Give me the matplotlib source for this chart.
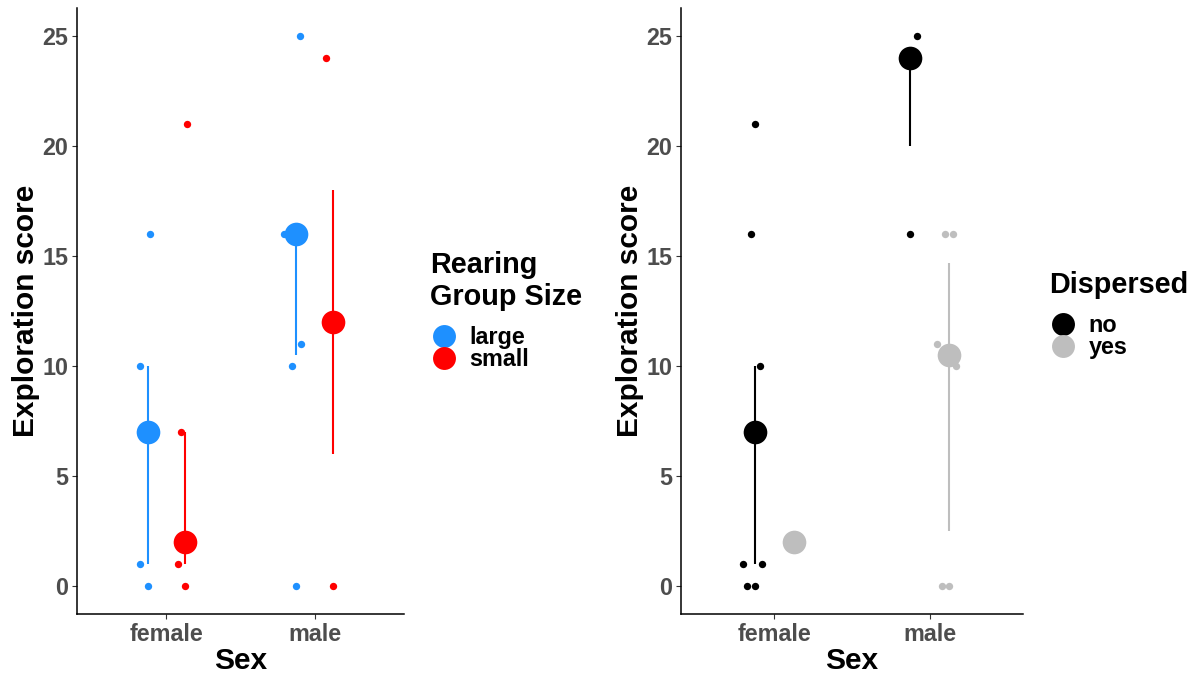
import matplotlib
matplotlib.use("Agg")
import matplotlib.pyplot as plt
from matplotlib.lines import Line2D
import numpy as np

plt.rcParams['font.family'] = ['Liberation Sans', 'DejaVu Sans']
plt.rcParams['font.weight'] = 'bold'

sexes = ["female", "male"]
yticks = [0, 5, 10, 15, 20, 25]

# Left panel: Rearing Group Size
rear_groups = ["large", "small"]
rear_colors = {"large": "#1E90FF", "small": "#FF0000"}
# raw points: (sex, group, value, jitter)
rear_sex = ["female"] * 8 + ["male"] * 7
rear_grp = ["large"] * 4 + ["small"] * 4 + ["large"] * 5 + ["small"] * 2
rear_val = [16, 10, 1, 0, 21, 7, 1, 0, 25, 16, 11, 10, 0, 24, 0]
rear_jit = [0.013, -0.053, -0.053, 0.0, 0.013, -0.027, -0.047, 0.0,
            0.027, -0.08, 0.033, -0.027, 0.0, -0.053, 0.0]
# summary: center, low, high
rear_sum_sex = ["female", "female", "male", "male"]
rear_sum_grp = ["large", "small", "large", "small"]
rear_center = [7, 2, 16, 12]
rear_low = [1, 1, 10.5, 6]
rear_high = [10, 7, 16, 18]

# Right panel: Dispersed
disp_groups = ["no", "yes"]
disp_colors = {"no": "#000000", "yes": "#BEBEBE"}
disp_sex = ["female"] * 8 + ["male"] * 9
disp_grp = ["no"] * 7 + ["yes"] + ["no"] * 3 + ["yes"] * 6
disp_val = [21, 16, 10, 1, 1, 0, 0, 2, 25, 24, 16, 16, 16, 11, 10, 0, 0]
disp_jit = [0.0, -0.026, 0.032, -0.077, 0.045, -0.051, 0.0, 0.0,
            0.045, 0.0, 0.0, -0.026, 0.026, -0.077, 0.045, -0.045, 0.0]
disp_sum_sex = ["female", "female", "male", "male"]
disp_sum_grp = ["no", "yes", "no", "yes"]
disp_center = [7, 2, 24, 10.5]
disp_low = [1, 2, 20, 2.5]
disp_high = [10, 2, 24, 14.7]

DODGE = 0.125
W, H = 1202, 677
fig = plt.figure(figsize=(W / 100, H / 100), dpi=100)

def panel(rect, groups, colors, psex, pgrp, pval, pjit, ssex, sgrp, sc, sl, sh,
          legend_title, leg_anchor):
    ax = fig.add_axes(rect)
    off = {groups[0]: -DODGE, groups[1]: DODGE}
    xpos = {s: i + 1 for i, s in enumerate(sexes)}
    for s, g, v, j in zip(psex, pgrp, pval, pjit):
        ax.scatter(xpos[s] + off[g] + j, v, s=28, color=colors[g], zorder=3,
                   linewidths=0)
    for s, g, c, lo, hi in zip(ssex, sgrp, sc, sl, sh):
        x = xpos[s] + off[g]
        if hi > lo:
            ax.plot([x, x], [lo, hi], color=colors[g], lw=1.5, zorder=2,
                    solid_capstyle='butt')
        ax.scatter(x, c, s=290, color=colors[g], zorder=4, linewidths=0)
    ax.set_xlim(0.4, 2.6)
    ax.set_ylim(-1.25, 26.25)
    ax.set_xticks([1, 2])
    ax.set_xticklabels(sexes)
    ax.set_yticks(yticks)
    for sp in ["top", "right"]:
        ax.spines[sp].set_visible(False)
    for sp in ["left", "bottom"]:
        ax.spines[sp].set_linewidth(1.1)
        ax.spines[sp].set_color("black")
    ax.tick_params(axis='both', length=3.8, width=0.8, color="#333333",
                   labelcolor="#4D4D4D", labelsize=16.8, pad=2.5)
    for lab in ax.get_xticklabels() + ax.get_yticklabels():
        lab.set_fontweight('bold')
    ax.set_xlabel("Sex", fontsize=21.5, fontweight='bold', labelpad=1)
    ax.set_ylabel("Exploration score", fontsize=21.5, fontweight='bold',
                  labelpad=1.5)
    handles = [Line2D([], [], marker='o', linestyle='none', markersize=16.5,
                      markerfacecolor=colors[g], markeredgewidth=0, label=g)
               for g in groups]
    leg = ax.legend(handles=handles, title=legend_title, loc='upper left',
                    bbox_to_anchor=leg_anchor, bbox_transform=fig.transFigure,
                    frameon=False, alignment='left', borderpad=0,
                    labelspacing=-0.05, handletextpad=0.5, handlelength=1.2,
                    prop={'size': 16.8, 'weight': 'bold'},
                    title_fontproperties={'size': 20.8, 'weight': 'bold'})
    leg._legend_box.sep = 11.0
    return ax

panel([77 / W, 63 / H, 327 / W, 606 / H], rear_groups, rear_colors,
      rear_sex, rear_grp, rear_val, rear_jit,
      rear_sum_sex, rear_sum_grp, rear_center, rear_low, rear_high,
      "Rearing\nGroup Size", (418 / W, 1 - 239 / H))
panel([681 / W, 63 / H, 342 / W, 606 / H], disp_groups, disp_colors,
      disp_sex, disp_grp, disp_val, disp_jit,
      disp_sum_sex, disp_sum_grp, disp_center, disp_low, disp_high,
      "Dispersed", (1037 / W, 1 - 259 / H))

fig.savefig("out.png", dpi=100)
